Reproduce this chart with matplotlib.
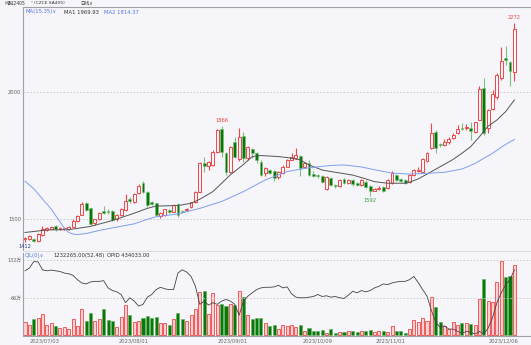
import numpy as np
import matplotlib
matplotlib.use("Agg")
import matplotlib.pyplot as plt

plt.rcParams['font.family'] = ['DejaVu Sans', 'Noto Sans CJK SC']

# daily candles, 2023/06 .. 2023/12
opens = [1422, 1421, 1424, 1414, 1438, 1458, 1463, 1475, 1463, 1462,
         1463, 1471, 1493, 1517, 1563, 1543, 1484, 1501, 1533, 1534,
         1533, 1500, 1517, 1537, 1579, 1569, 1602, 1642, 1609, 1567,
         1563, 1513, 1517, 1536, 1530, 1559, 1534, 1536, 1547, 1569,
         1609, 1720, 1711, 1714, 1766, 1854, 1760, 1688, 1806, 1736,
         1828, 1740, 1775, 1760, 1727, 1683, 1694, 1691, 1665, 1684,
         1707, 1734, 1740, 1749, 1707, 1720, 1677, 1674, 1670, 1618,
         1661, 1635, 1631, 1659, 1644, 1655, 1642, 1635, 1648, 1631,
         1613, 1621, 1626, 1622, 1644, 1674, 1657, 1655, 1648, 1674,
         1689, 1688, 1731, 1779, 1845, 1796, 1792, 1803, 1819, 1838,
         1861, 1859, 1858, 1845, 1891, 2018, 1858, 1934, 1983, 2055,
         2136, 2118, 2079]
closes = [1426, 1434, 1416, 1441, 1460, 1466, 1468, 1461, 1466, 1465,
          1469, 1493, 1513, 1560, 1537, 1481, 1500, 1526, 1526, 1527,
          1497, 1516, 1540, 1571, 1571, 1598, 1632, 1609, 1556, 1559,
          1517, 1526, 1539, 1530, 1556, 1517, 1529, 1542, 1567, 1609,
          1720, 1709, 1724, 1766, 1852, 1766, 1688, 1786, 1747, 1823,
          1740, 1786, 1762, 1733, 1675, 1700, 1684, 1661, 1688, 1707,
          1733, 1747, 1753, 1701, 1720, 1674, 1672, 1669, 1648, 1665,
          1635, 1631, 1655, 1644, 1655, 1639, 1636, 1655, 1628, 1613,
          1621, 1623, 1613, 1655, 1681, 1655, 1652, 1642, 1674, 1694,
          1694, 1736, 1760, 1841, 1779, 1791, 1806, 1816, 1832, 1855,
          1856, 1862, 1848, 1882, 2013, 1838, 1930, 1992, 2068, 2123,
          2127, 2084, 2249]
highs = [1430, 1438, 1428, 1444, 1474, 1470, 1472, 1478, 1470, 1469,
         1473, 1500, 1516, 1570, 1568, 1546, 1503, 1530, 1552, 1540,
         1537, 1520, 1545, 1600, 1586, 1603, 1640, 1652, 1612, 1572,
         1566, 1530, 1542, 1540, 1560, 1566, 1537, 1545, 1570, 1613,
         1724, 1746, 1730, 1772, 1856, 1866, 1766, 1790, 1825, 1858,
         1842, 1790, 1780, 1765, 1735, 1705, 1698, 1694, 1692, 1712,
         1738, 1760, 1782, 1755, 1726, 1733, 1690, 1680, 1675, 1670,
         1666, 1640, 1660, 1664, 1660, 1660, 1648, 1660, 1653, 1636,
         1625, 1630, 1632, 1660, 1690, 1680, 1662, 1660, 1678, 1698,
         1705, 1742, 1766, 1880, 1850, 1800, 1815, 1825, 1840, 1870,
         1880, 1875, 1885, 1885, 2025, 2055, 1935, 2010, 2075, 2180,
         2184, 2125, 2272]
lows = [1412, 1418, 1412, 1412, 1436, 1455, 1460, 1455, 1458, 1458,
        1459, 1468, 1490, 1515, 1532, 1478, 1478, 1498, 1522, 1522,
        1493, 1495, 1514, 1533, 1566, 1565, 1598, 1603, 1550, 1555,
        1512, 1505, 1514, 1526, 1527, 1510, 1524, 1533, 1544, 1566,
        1606, 1688, 1695, 1710, 1762, 1747, 1675, 1684, 1740, 1730,
        1725, 1735, 1740, 1720, 1670, 1670, 1680, 1650, 1660, 1680,
        1705, 1732, 1736, 1672, 1700, 1670, 1665, 1664, 1642, 1614,
        1630, 1625, 1626, 1638, 1640, 1633, 1630, 1630, 1622, 1592,
        1610, 1616, 1608, 1618, 1640, 1650, 1646, 1637, 1644, 1670,
        1686, 1684, 1726, 1775, 1760, 1785, 1788, 1798, 1815, 1834,
        1850, 1850, 1812, 1840, 1890, 1830, 1840, 1930, 1975, 2050,
        2107, 2026, 2044]

# volume in 10k lots
volume = [24, 19, 29, 30, 37, 18, 21, 16, 13, 15,
          11, 28, 16, 46, 26, 39, 26, 28, 46, 27,
          26, 15, 33, 54, 36, 23, 26, 30, 34, 31,
          33, 22, 21, 18, 28, 39, 28, 26, 35, 46,
          76, 78, 37, 74, 53, 55, 52, 55, 54, 78,
          67, 35, 29, 30, 30, 21, 16, 18, 12, 18,
          16, 18, 15, 18, 8, 13, 7, 8, 9, 5,
          11, 5, 6, 6, 8, 7, 6, 8, 7, 10,
          6, 8, 8, 6, 16, 8, 7, 5, 12, 27,
          24, 30, 26, 68, 50, 24, 16, 11, 23, 18,
          22, 21, 20, 19, 64, 99, 60, 59, 94, 131,
          102, 104, 124]

# open interest
opid = [433000, 435700, 442300, 442000, 434000, 433000, 433700, 433000, 432300, 430700,
        430000, 428300, 424000, 420700, 419700, 421700, 422300, 422300, 423000, 415700,
        413000, 411700, 409000, 400700, 405700, 402300, 397300, 399000, 406300, 409000,
        414000, 416300, 414700, 414000, 414000, 430700, 434000, 431700, 427300, 417300,
        399000, 402300, 398300, 400700, 399000, 402300, 404000, 402300, 399000, 388000,
        402300, 407300, 410700, 414000, 415700, 416300, 416300, 416700, 418300, 415700,
        416700, 409700, 406300, 405700, 405700, 406300, 407000, 409000, 407000, 407700,
        406300, 407000, 405700, 405000, 408300, 412300, 410700, 413000, 411700, 413000,
        415700, 417300, 419700, 419000, 420700, 421700, 422300, 422300, 424000, 427300,
        421000, 414000, 407300, 393000, 380700, 376000, 377300, 374000, 374000, 371700,
        369700, 371700, 370700, 369000, 371700, 369000, 375000, 385700, 400700, 410700,
        419000, 424000, 434033]

# moving averages read at selected bars
ma1_idx = [0, 5, 10, 15, 20, 25, 28, 30, 35, 38, 40, 43, 45, 47, 50, 52, 54, 58, 60,
           63, 65, 68, 70, 75, 78, 80, 83, 87, 88, 90, 92, 95, 98, 100, 102, 104, 106,
           108, 110, 112]
ma1_val = [1448, 1458, 1459, 1472, 1495, 1524, 1543, 1552, 1554, 1563, 1579, 1609, 1642,
           1675, 1716, 1747, 1751, 1747, 1743, 1734, 1714, 1694, 1688, 1674, 1659, 1648,
           1642, 1642, 1646, 1659, 1678, 1707, 1736, 1760, 1786, 1825, 1867, 1891, 1924,
           1969.93]
ma2_idx = [0, 2, 4, 6, 8, 9, 10, 11, 12, 14, 17, 20, 25, 28, 30, 35, 40, 45, 50, 55,
           60, 65, 70, 73, 77, 80, 84, 88, 92, 96, 100, 103, 107, 110, 112]
ma2_val = [1650, 1620, 1580, 1540, 1490, 1465, 1448, 1442, 1440, 1444, 1456, 1466, 1482,
           1500, 1510, 1521, 1543, 1570, 1609, 1655, 1688, 1703, 1712, 1714, 1706, 1695,
           1682, 1678, 1681, 1685, 1698, 1720, 1760, 1795, 1814.37]

date_pos = [1, 21.5, 44, 63.6, 80.3, 106.2]
date_labels = ['2023/07/03', '2023/08/01', '2023/09/01', '2023/10/09', '2023/11/01', '2023/12/06']

BG = '#f5f5fa'
RED = '#f04646'
GREEN = '#087808'
GREEN_WICK = '#7cc07c'
GRID = '#c8c8cc'
AXIS = '#a0a0a8'

W, H = 531, 345
fig = plt.figure(figsize=(W / 100, H / 100), dpi=100, facecolor=BG)


def box(left, top, right, bottom):
    return [left / W, 1 - bottom / H, (right - left) / W, (bottom - top) / H]


ax = fig.add_axes(box(23, 7, 531, 250), facecolor=BG)
axv = fig.add_axes(box(23, 253, 531, 336), facecolor=BG)

x = np.arange(len(opens))
o = np.array(opens, float)
c = np.array(closes, float)
h = np.array(highs, float)
l = np.array(lows, float)
up = c >= o
body_lo = np.minimum(o, c)
body_hi = np.maximum(o, c)

# wicks
ax.vlines(x[up], h[up], body_hi[up], color=RED, lw=0.8, zorder=2)
ax.vlines(x[up], l[up], body_lo[up], color=RED, lw=0.8, zorder=2)
ax.vlines(x[~up], l[~up], h[~up], color=GREEN_WICK, lw=0.8, zorder=2)
# bodies
ax.bar(x[up], np.maximum(body_hi[up] - body_lo[up], 1.5), bottom=body_lo[up], width=0.66,
       facecolor=BG, edgecolor=RED, linewidth=0.7, zorder=3)
ax.bar(x[~up], np.maximum(body_hi[~up] - body_lo[~up], 1.5), bottom=body_lo[~up], width=0.66,
       facecolor=GREEN, edgecolor=GREEN_WICK, linewidth=0.4, zorder=3)

ax.plot(ma1_idx, ma1_val, color='#555555', lw=0.7, zorder=4)
ax.plot(ma2_idx, ma2_val, color='#7f9ff0', lw=0.7, zorder=4)

ax.set_xlim(-0.46, 115.8)
ax.set_ylim(1379, 2336)
ax.set_yticks([1500, 2000])
ax.set_yticklabels(['1500', '2000'])
ax.set_xticks([])
ax.grid(axis='y', color=GRID, ls=(0, (2, 2)), lw=0.6)
ax.tick_params(axis='y', length=0, pad=1.2, labelsize=3.7, labelcolor='#666666')
for side in ['right', 'bottom']:
    ax.spines[side].set_visible(False)
for side in ['left', 'top']:
    ax.spines[side].set_color(AXIS)
    ax.spines[side].set_linewidth(0.8)

# high / low marks
ih = 45
ax.annotate(f'{highs[ih]:.0f}', (ih, highs[ih]), xytext=(0, 2.5), textcoords='offset points',
            ha='center', va='bottom', fontsize=3.7, color=RED)
ih = len(highs) - 1
ax.annotate(f'{highs[ih]:.0f}', (ih, highs[ih]), xytext=(0, 2.5), textcoords='offset points',
            ha='center', va='bottom', fontsize=3.7, color=RED)
il = 79
ax.annotate(f'{lows[il]:.0f}', (il, lows[il]), xytext=(0, -1.5), textcoords='offset points',
            ha='center', va='top', fontsize=3.7, color='#3c9a3c')
il = int(np.argmin(lows[:10]))
ax.annotate(f'{lows[il]:.0f}', (il, lows[il]), xytext=(0, -1.5), textcoords='offset points',
            ha='center', va='top', fontsize=3.7, color='#2a3a8a')

# volume panel
vol = np.array(volume, float)
axv.bar(x[up], vol[up], width=0.7, facecolor='#fbd2d2', edgecolor=RED, linewidth=0.6)
axv.bar(x[~up], vol[~up], width=0.7, facecolor=GREEN, edgecolor='#5fb05f', linewidth=0.4)
axv.set_xlim(-0.46, 115.8)
axv.set_ylim(-1, 144.3)
axv.set_yticks([66, 132])
axv.set_yticklabels(['66万', '132万'])
axv.set_xticks(date_pos)
axv.set_xticklabels(date_labels, ha='left')
axv.grid(axis='y', color=GRID, ls=(0, (2, 2)), lw=0.6)
axv.tick_params(axis='y', length=0, pad=1.2, labelsize=3.5, labelcolor='#666666')
axv.tick_params(axis='x', length=0, pad=1.5, labelsize=3.7, labelcolor='#666666')
for side in ['right', 'top']:
    axv.spines[side].set_visible(False)
for side in ['left', 'bottom']:
    axv.spines[side].set_color(AXIS)
    axv.spines[side].set_linewidth(0.8)

axo = axv.twinx()
axo.plot(x, opid, color='#444444', lw=0.6)
axo.set_ylim(368000 - 1000, 368000 + 83 * 1000)
axo.set_yticks([])
for s in axo.spines.values():
    s.set_visible(False)

# separator between the panels
fig.add_artist(plt.Line2D([23 / W, 1], [1 - 251 / H, 1 - 251 / H], color='#d8d8dc', lw=0.6))


# header rows
def put(px, py, s, color='#222222', size=3.8):
    fig.text(px / W, 1 - py / H, s, fontsize=size, color=color, va='center', ha='left')


put(5, 3.5, '纯碱2405', '#333333', 3.3)
put(30.5, 2.5, '*', '#e05a3a', 3.0)
put(34, 3.5, '(CZCE SA405)', '#333333', 3.2)
put(80, 3.5, '日线∨', '#333333', 3.3)
put(25, 12, 'MA(15,35)∨', '#5577dd')
put(64, 12, 'MA1 1969.93', '#333333')
put(104, 12, 'MA2 1814.37', '#5577dd')
put(25, 255.5, 'CJL(0)∨', '#5577dd')
put(53, 255.5, '1232265.00(52.48)', '#333333')
put(107, 255.5, 'OPID 434033.00', '#333333')

fig.savefig('out.png', dpi=100, facecolor=BG)
